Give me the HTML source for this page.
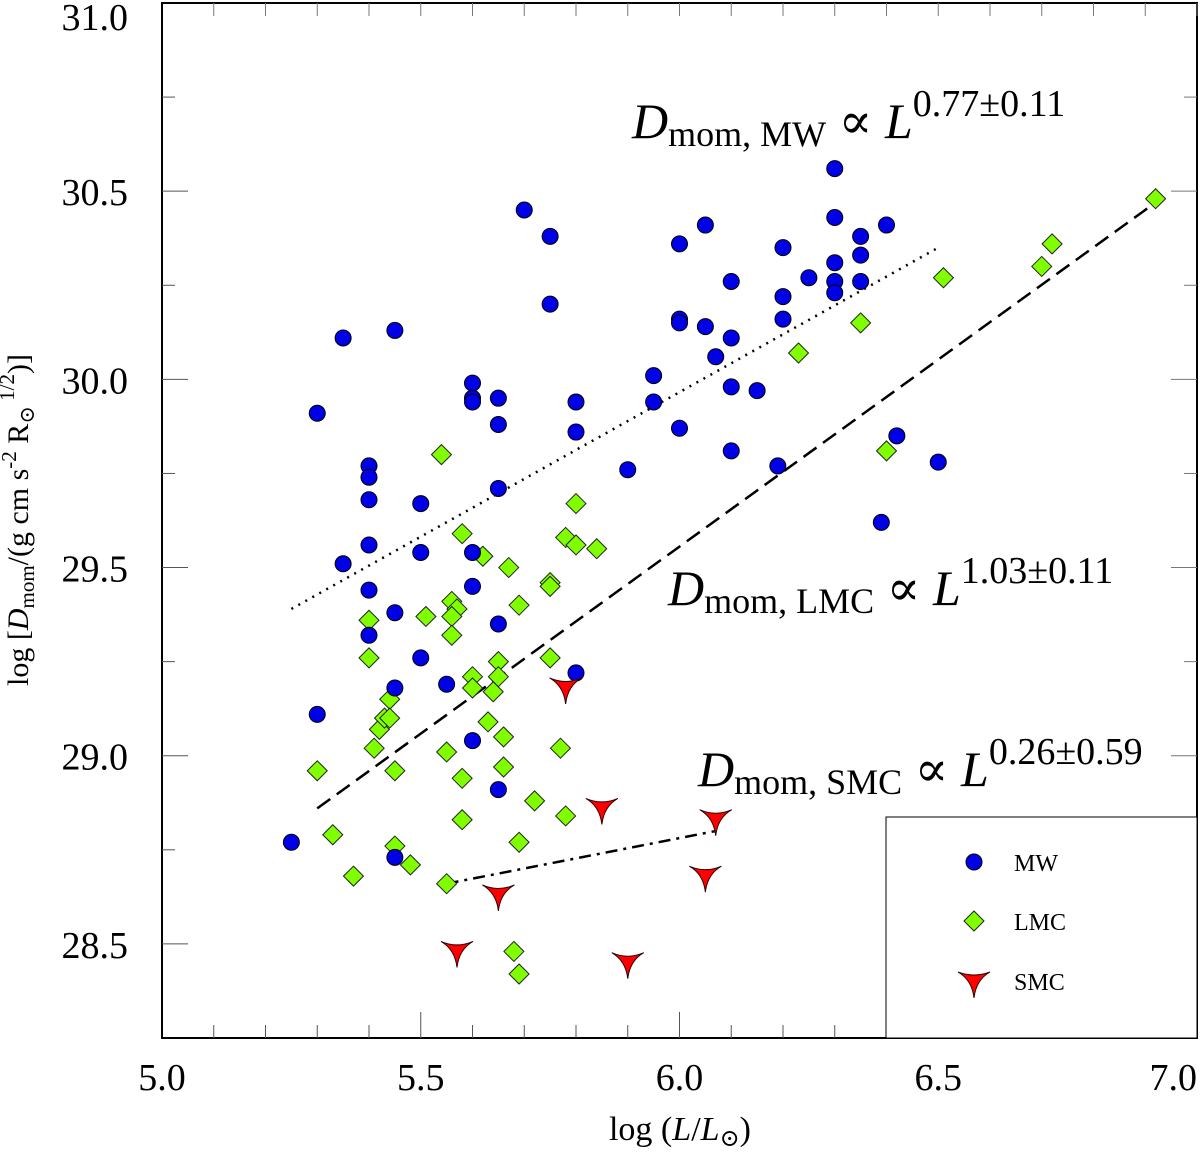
<!DOCTYPE html>
<html><head><meta charset="utf-8"><style>
html,body{margin:0;padding:0;background:#fff;}
svg, svg text{font-family:"Liberation Serif","DejaVu Serif",serif;}
</style></head><body>
<svg id="chart" width="1200" height="1149" viewBox="0 0 1200 1149" xmlns="http://www.w3.org/2000/svg" font-family="Liberation Serif, serif">
<g id="frame"></g>
<g id="lines"></g>
<g id="marks"></g>
<g>
<rect x="886" y="817" width="311" height="221" fill="#fff" stroke="#000" stroke-width="1"/>
<circle cx="974" cy="862" r="8" fill="#0000e6" stroke="#000" stroke-width="1"/>
<text x="1014" y="871" font-size="24">MW</text>
<path d="M974,911 L984,921 L974,931 L964,921 Z" fill="#7fff00" stroke="#222" stroke-width="1"/>
<text x="1014" y="930" font-size="24">LMC</text>
<path d="M958,972 Q974,978 990,972 Q976,980 974,998 Q972,980 958,972 Z" fill="#f00" stroke="#300" stroke-width="1"/>
<text x="1014" y="990" font-size="24">SMC</text>
</g>
<text x="632" y="138" font-size="50"><tspan font-style="italic">D</tspan><tspan font-size="36" dy="8">mom, MW</tspan><tspan dy="-8"> ∝ </tspan><tspan font-style="italic">L</tspan><tspan font-size="38" dy="-22">0.77±0.11</tspan></text>
<text x="668" y="605" font-size="50"><tspan font-style="italic">D</tspan><tspan font-size="36" dy="8">mom, LMC</tspan><tspan dy="-8"> ∝ </tspan><tspan font-style="italic">L</tspan><tspan font-size="38" dy="-22">1.03±0.11</tspan></text>
<text x="698" y="786" font-size="50"><tspan font-style="italic">D</tspan><tspan font-size="36" dy="8">mom, SMC</tspan><tspan dy="-8"> ∝ </tspan><tspan font-style="italic">L</tspan><tspan font-size="38" dy="-22">0.26±0.59</tspan></text>
<text x="680" y="1140" font-size="34" text-anchor="middle">log (<tspan font-style="italic">L</tspan>/<tspan font-style="italic">L</tspan><tspan font-size="24" dy="6">⊙</tspan><tspan dy="-6">)</tspan></text>
<text transform="translate(28,520) rotate(-90)" font-size="30" text-anchor="middle">log [<tspan font-style="italic">D</tspan><tspan font-size="21" dy="6">mom</tspan><tspan dy="-6">/(g cm s</tspan><tspan font-size="21" dy="-12">-2</tspan><tspan dy="12"> R</tspan><tspan font-size="21" dy="6">⊙</tspan><tspan font-size="21" dy="-20"> 1/2</tspan><tspan dy="14">)]</tspan></text>
</svg>
<script>
const xTicks=[5.0,5.5,6.0,6.5,7.0];
const xTickLabels=["5.0","5.5","6.0","6.5","7.0"];
const yTicks=[28.5,29.0,29.5,30.0,30.5,31.0];
const yTickLabels=["28.5","29.0","29.5","30.0","30.5","31.0"];
const mwX=[5.25,5.30,5.30,5.35,5.35,5.45,5.40,5.40,5.40,5.40,5.40,5.40,5.45,5.45,5.45,5.50,5.50,5.50,5.55,5.60,5.60,5.60,5.60,5.60,5.60,5.65,5.65,5.65,5.65,5.65,5.70,5.75,5.75,5.80,5.80,5.80,5.90,5.95,5.95,6.00,6.00,6.00,6.00,6.05,6.05,6.07,6.10,6.10,6.10,6.10,6.15,6.19,6.20,6.20,6.20,6.25,6.30,6.30,6.30,6.30,6.30,6.35,6.35,6.35,6.40,6.42,6.39,6.50];
const mwY=[28.77,29.91,29.11,30.11,29.51,30.13,29.77,29.74,29.68,29.56,29.44,29.32,29.38,29.18,28.73,29.67,29.54,29.26,29.19,29.99,29.95,29.94,29.54,29.45,29.04,29.95,29.88,29.71,29.35,28.91,30.45,30.38,30.20,29.94,29.86,29.22,29.76,30.01,29.94,30.36,30.16,30.15,29.87,30.41,30.14,30.06,30.26,30.11,29.98,29.81,29.97,29.77,30.35,30.22,30.16,30.27,30.56,30.43,30.31,30.26,30.23,30.38,30.33,30.26,30.41,29.85,29.62,29.78];
const lmcX=[5.54,5.58,5.62,5.67,5.80,5.78,5.80,5.84,5.75,5.75,5.69,5.56,5.57,5.56,5.51,5.56,5.40,5.40,5.44,5.42,5.43,5.44,5.41,5.30,5.33,5.37,5.45,5.45,5.48,5.55,5.55,5.58,5.58,5.60,5.60,5.65,5.65,5.64,5.63,5.66,5.66,5.72,5.69,5.68,5.69,5.78,5.77,5.75,6.23,6.35,6.51,6.40,6.70,6.72,6.92];
const lmcY=[29.80,29.59,29.53,29.50,29.67,29.58,29.56,29.55,29.46,29.45,29.40,29.41,29.39,29.37,29.37,29.32,29.36,29.26,29.15,29.07,29.10,29.10,29.02,28.96,28.79,28.68,28.76,28.96,28.71,28.66,29.01,28.83,28.94,29.21,29.18,29.25,29.21,29.17,29.09,29.05,28.97,28.88,28.77,28.48,28.42,28.84,29.02,29.26,30.07,30.15,30.27,29.81,30.30,30.36,30.48];
const smcX=[5.78,5.85,6.07,5.65,6.05,5.57,5.90];
const smcY=[29.18,28.86,28.83,28.63,28.68,28.48,28.45];
const fitMW=[[5.25,29.39],[6.50,30.35]];
const fitLMC=[[5.30,28.86],[6.92,30.47]];
const fitSMC=[[5.55,28.66],[6.07,28.80]];

const L=162,R=1197,T=3,B=1038,X0=5.0,X1=7.0,Y0=28.25,Y1=31.0;
const sx=v=>L+(v-X0)/(X1-X0)*(R-L);
const sy=v=>B-(v-Y0)/(Y1-Y0)*(B-T);
const NS="http://www.w3.org/2000/svg";
function mk(tag,attrs,parent){const e=document.createElementNS(NS,tag);for(const k in attrs)e.setAttribute(k,attrs[k]);parent.appendChild(e);return e;}
const frame=document.getElementById('frame'),lines=document.getElementById('lines'),marks=document.getElementById('marks');
const box=mk('rect',{x:L,y:T,width:R-L,height:B-T,fill:'none',stroke:'#000','stroke-width':2},frame);


for(let v=5.1;v<7.0;v+=0.1){const x=sx(v);const major=Math.abs(v*2-Math.round(v*2))<1e-6;const len=major?26:13;
 const t=mk('line',{x1:x,x2:x,y1:B,y2:B-len,stroke:'#555','stroke-width':1},frame);
 
 
 const t2=mk('line',{x1:x,x2:x,y1:T,y2:T+13,stroke:'#777','stroke-width':1},frame);
 
 }
for(let v=28.5;v<31.0;v+=0.25){const y=sy(v);const major=Math.abs(v*2-Math.round(v*2))<1e-6;const len=major?26:13;
 const t=mk('line',{x1:L,x2:L+len,y1:y,y2:y,stroke:'#555','stroke-width':1},frame);
 
 
 const t2=mk('line',{x1:R,x2:R-len,y1:y,y2:y,stroke:'#777','stroke-width':1},frame);
 
 }
xTicks.forEach((v,i)=>{const last=i===xTicks.length-1;
 const t=mk('text',{x:last?R:sx(v),y:1090,'font-size':38,'text-anchor':last?'end':'middle','font-family':'Liberation Serif, serif'},frame);t.textContent=xTickLabels[i];
 
 });
yTicks.forEach((v,i)=>{const y=Math.max(sy(v)+14,30);
 const t=mk('text',{x:128,y:y,'font-size':38,'text-anchor':'end','font-family':'Liberation Serif, serif'},frame);t.textContent=yTickLabels[i];
 
 });
function fit(pts,dash,name){const l=mk('line',{x1:sx(pts[0][0]),y1:sy(pts[0][1]),x2:sx(pts[1][0]),y2:sy(pts[1][1]),stroke:'#000','stroke-width':2.5,'stroke-dasharray':dash},lines);
 
 }
fit(fitMW,'2 6','mw-fit-line');
fit(fitLMC,'16 8','lmc-fit-line');
fit(fitSMC,'12 6 3 6','smc-fit-line');
lmcX.forEach((v,i)=>{const x=sx(v),y=sy(lmcY[i]);
 const p=mk('path',{d:`M${x},${y-10} L${x+10},${y} L${x},${y+10} L${x-10},${y} Z`,fill:'#7fff00',stroke:'#222','stroke-width':1},marks);
 
 });
mwX.forEach((v,i)=>{const c=mk('circle',{cx:sx(v),cy:sy(mwY[i]),r:8,fill:'#0000e6',stroke:'#000','stroke-width':1},marks);
 
 });
smcX.forEach((v,i)=>{const x=sx(v),y=sy(smcY[i]);
 const p=mk('path',{d:`M${x-16},${y-10} Q${x},${y-3} ${x+16},${y-10} Q${x+2},${y-2} ${x},${y+16} Q${x-2},${y-2} ${x-16},${y-10} Z`,fill:'#f00',stroke:'#300','stroke-width':1},marks);
 
 });
</script>
</body></html>
